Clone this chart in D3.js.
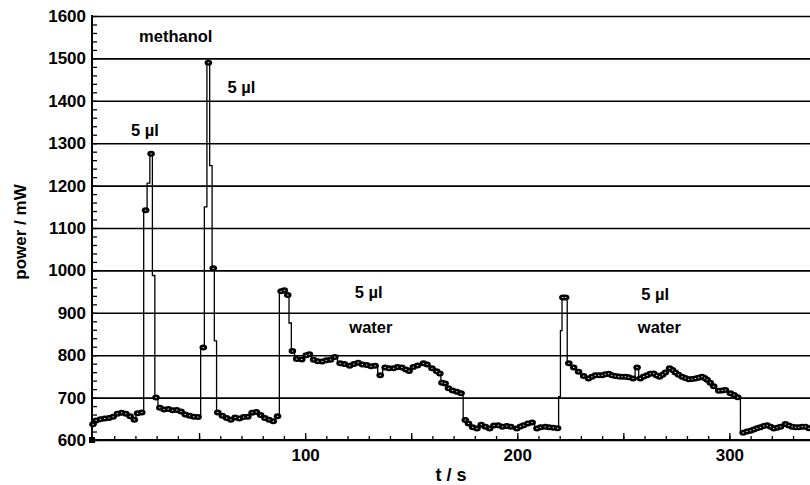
<!DOCTYPE html>
<html>
<head>
  <meta charset="UTF-8">
  <script src="https://cdn.jsdelivr.net/npm/d3@7"></script>
  <style>
    body { margin: 0; background: #fff; }
    text { font-family: "Liberation Sans", Arial, sans-serif; font-weight: bold; fill: #000; }
  </style>
</head>
<body>
<svg width="810" height="485"></svg>
<script>
  // measured trace: time (s), power (mW)
  var time = [
    0, 1.5, 3.5, 5.5, 7.5, 9.5, 11.5, 13.5, 15.5, 17.5, 19.5, 21, 23,
    24.8, 26.2, 27.4, 28.6, 29.7,
    31.5, 33.5, 35.5, 37.5, 39.5, 41.5, 43.5, 45.5, 47.5, 49.5,
    52, 53, 54.4, 55.6, 56.7, 57.7, 58.8,
    61, 63, 65, 67, 69, 71, 73, 75, 77, 79, 81, 83, 85, 87,
    88.7, 90.2, 91.8, 93, 94,
    96, 98.4, 100.5, 102, 104, 106, 108, 110, 112, 114, 116.5, 118.5, 121, 123, 125, 127, 129, 131, 133,
    135.4, 137.7, 139.5, 141.7, 143.5, 145.6, 147.5, 149, 151, 153, 155.8, 157.5, 159.8, 162, 163.5,
    164.5, 166, 167.6, 169.5, 171.5, 173.5,
    175.5,
    177, 179, 181, 183, 185, 187, 189, 191, 193, 195, 197, 199.8, 201.5, 203, 205, 207, 209.3, 211, 213.2, 215, 217, 219,
    220, 220.7, 221.5, 222.8, 224.3,
    226.6, 228.9, 231.3, 233.6, 235.2, 236.8, 238.4, 240, 241.5, 243.1, 244.6, 246.2, 247.8, 249.4, 251, 252.5, 254.6,
    256.5, 258, 259.6, 261.2, 262.7, 264.3, 265.7, 267.1, 268.5, 269.8, 271.8, 273.2, 274.5, 276, 277.7, 279.2, 280.8,
    282.4, 284, 285.5, 287.1, 288.3, 289.5, 291, 292.6, 295, 296.6, 298.1, 300.5, 302.2, 303.9,
    306.5,
    308.3, 310, 311.5, 313, 314.6, 316.2, 317.8, 319.4, 320.9, 322.5, 324.1, 326.4, 328, 329.6, 331.2, 332.7, 334.3, 335.8, 337.5
  ];
  var power = [
    637, 646, 649, 651, 652, 655, 662, 664, 662, 656, 648, 663, 665,
    1142, 1206, 1275, 988, 700,
    676, 672, 673, 670, 671, 667, 660, 657, 655, 654,
    818, 1150, 1490, 1247, 1005, 834, 665,
    657, 652, 648, 653, 651, 654, 655, 664, 666, 659, 652, 648, 644, 656,
    951, 953, 942, 876, 810,
    791, 790, 800, 802, 789, 786, 785, 788, 789, 796, 781, 779, 775, 779, 782, 778, 777, 774, 775,
    753, 771, 769, 769, 772, 771, 766, 763, 772, 776, 781, 778, 769, 762, 757,
    735, 733, 722, 717, 714, 710,
    647,
    639, 630, 627, 636, 631, 627, 634, 635, 631, 633, 631, 627, 632, 635, 639, 641, 627, 630, 631, 630, 629, 628,
    702, 858, 936, 936, 781,
    771, 761, 751, 745, 749, 753, 753, 753, 755, 756, 753, 751, 750, 749, 749, 748, 745,
    771, 745, 750, 753, 756, 757, 752, 749, 754, 759, 769, 765, 759, 754, 749, 746, 743,
    744, 745, 747, 749, 746, 742, 735, 727, 716, 717, 718, 710, 706, 701,
    617,
    620, 622, 625, 628, 630, 633, 635, 631, 627, 629, 631, 638, 634, 631, 630, 630, 631, 631, 628
  ];
  // transient samples drawn by the line only, without a symbol
  var unmarkedTimes = [26.2, 28.6, 53, 55.6, 57.7, 93, 220, 220.7];

  var squareTime = [0];
  var squarePower = [600];

  var yTicks = [600, 700, 800, 900, 1000, 1100, 1200, 1300, 1400, 1500, 1600];
  var xLabelTicks = [100, 200, 300];

  var labels = [
    { text: "methanol", t: 39, p: 1548 },
    { text: "5 µl", t: 24.5, p: 1327 },
    { text: "5 µl", t: 70, p: 1428 },
    { text: "5 µl", t: 130, p: 945 },
    { text: "water", t: 131, p: 863 },
    { text: "5 µl", t: 265, p: 940 },
    { text: "water", t: 267, p: 863 }
  ];

  var plotL = 92, plotR = 810, plotT = 16, plotB = 440;

  var svg = d3.select("svg");
  svg.append("rect").attr("width", 810).attr("height", 485).attr("fill", "#fff");

  var x = d3.scaleLinear().domain([0, 338]).range([93, 810]);
  var y = d3.scaleLinear().domain([600, 1600]).range([plotB, plotT]);

  // gridlines + y labels
  var yAxis = svg.append("g")
      .attr("transform", "translate(" + plotL + ",0)")
      .call(d3.axisLeft(y).tickValues(yTicks).tickSize(-(plotR - plotL)).tickPadding(6).tickFormat(d3.format("d")));
  yAxis.select(".domain").remove();
  yAxis.selectAll("line").attr("stroke", "#000").attr("stroke-width", 1.6);
  yAxis.selectAll("text").style("font-size", "17px");

  // y minor ticks
  var yMinor = svg.append("g")
      .attr("transform", "translate(" + plotL + ",0)")
      .call(d3.axisLeft(y).tickValues(d3.range(600, 1601, 20)).tickSize(-5).tickFormat(""));
  yMinor.select(".domain").remove();
  yMinor.selectAll("line").attr("stroke", "#000").attr("stroke-width", 1.3);

  // x ticks
  var xMinor = svg.append("g")
      .attr("transform", "translate(0," + plotB + ")")
      .call(d3.axisBottom(x).tickValues(d3.range(10, 338, 10)).tickSize(-4).tickFormat(""));
  xMinor.select(".domain").remove();
  xMinor.selectAll("line").attr("stroke", "#000").attr("stroke-width", 1.3);

  var xMajor = svg.append("g")
      .attr("transform", "translate(0," + plotB + ")")
      .call(d3.axisBottom(x).tickValues([50, 100, 150, 200, 250, 300]).tickSize(-7).tickPadding(9)
        .tickFormat(function (d) { return xLabelTicks.indexOf(d) >= 0 ? d : ""; }));
  xMajor.select(".domain").remove();
  xMajor.selectAll("line").attr("stroke", "#000").attr("stroke-width", 1.3);
  xMajor.selectAll("text").style("font-size", "17px");

  // axis lines
  svg.append("line").attr("x1", plotL).attr("x2", plotL).attr("y1", plotT - 1).attr("y2", plotB + 1)
      .attr("stroke", "#000").attr("stroke-width", 2);
  svg.append("line").attr("x1", plotL).attr("x2", plotR).attr("y1", plotB).attr("y2", plotB)
      .attr("stroke", "#000").attr("stroke-width", 2);

  var data = time.map(function (t, i) {
    return { t: t, p: power[i], m: unmarkedTimes.indexOf(t) < 0 };
  });

  var line = d3.line()
      .x(function (d) { return x(d.t); })
      .y(function (d) { return y(d.p); })
      .curve(d3.curveStep);

  svg.append("path")
      .datum(data)
      .attr("d", line)
      .attr("fill", "none")
      .attr("stroke", "#000")
      .attr("stroke-width", 1.3);

  var pts = data.filter(function (d) { return d.m; });

  svg.selectAll("ellipse.marker")
      .data(pts)
      .enter()
      .append("ellipse")
      .attr("class", "marker")
      .attr("cx", function (d) { return x(d.t); })
      .attr("cy", function (d) { return y(d.p); })
      .attr("rx", 3.8)
      .attr("ry", 3)
      .attr("fill", "#000");

  svg.selectAll("ellipse.hole")
      .data(pts)
      .enter()
      .append("ellipse")
      .attr("class", "hole")
      .attr("cx", function (d) { return x(d.t); })
      .attr("cy", function (d) { return y(d.p); })
      .attr("rx", 0.8)
      .attr("ry", 0.5)
      .attr("fill", "#fff");

  svg.selectAll("rect.sq")
      .data(squareTime)
      .enter()
      .append("rect")
      .attr("class", "sq")
      .attr("x", function (d) { return x(d) - 4; })
      .attr("y", function (d, i) { return y(squarePower[i]) - 3; })
      .attr("width", 6)
      .attr("height", 6)
      .attr("fill", "#000");

  svg.selectAll("text.note")
      .data(labels)
      .enter()
      .append("text")
      .attr("class", "note")
      .attr("x", function (d) { return x(d.t); })
      .attr("y", function (d) { return y(d.p); })
      .attr("text-anchor", "middle")
      .attr("dominant-baseline", "middle")
      .style("font-size", "16.5px")
      .text(function (d) { return d.text; });

  svg.append("text")
      .attr("x", 451)
      .attr("y", 481)
      .attr("text-anchor", "middle")
      .style("font-size", "18px")
      .text("t / s");

  svg.append("text")
      .attr("transform", "translate(26,232) rotate(-90)")
      .attr("text-anchor", "middle")
      .style("font-size", "17px")
      .text("power / mW");
</script>
</body>
</html>
